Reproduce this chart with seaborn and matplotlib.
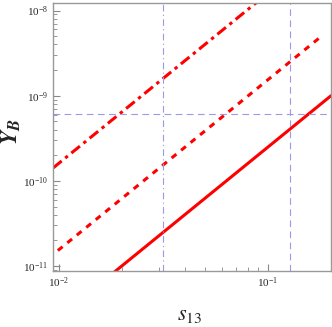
import matplotlib
matplotlib.use("Agg")
import matplotlib.pyplot as plt
import matplotlib.ticker as mticker
import numpy as np
import pandas as pd
import seaborn as sns

# end points of the three straight lines (log-log)
s_solid = [0.018, 0.2]
y_solid = [8.1e-12, 1.0e-9]
s_dashed = [0.0099, 0.18]
y_dashed = [1.52e-11, 5.0e-9]
s_dashdot = [0.0094, 0.09]
y_dashdot = [1.42e-10, 1.3e-8]

y_obs = 6.1e-10
s_bounds = [0.0316, 0.127]

sns.set_style("ticks")
plt.rcParams['font.family'] = ['Liberation Serif', 'DejaVu Serif']
plt.rcParams['mathtext.fontset'] = 'stix'

fig = plt.figure(figsize=(3.32, 3.27), dpi=100)
ax = fig.add_axes([0.16, 0.172, 0.837, 0.819])

sns.lineplot(x=s_solid, y=y_solid, ax=ax, color='red', lw=2.2, linestyle='-')
sns.lineplot(x=s_dashed, y=y_dashed, ax=ax, color='red', lw=2.2, linestyle=(0, (2.0, 2.0)))
sns.lineplot(x=s_dashdot, y=y_dashdot, ax=ax, color='red', lw=2.2, linestyle=(0, (3.6, 1.5, 1.1, 1.5)))

ax.axhline(y_obs, color='#9a9ae6', lw=0.8, linestyle=(0, (6, 4)))
ax.axvline(s_bounds[0], color='#9a9ae6', lw=0.8, linestyle=(0, (6, 3, 1, 3)))
ax.axvline(s_bounds[1], color='#9a9ae6', lw=0.8, linestyle=(0, (6, 4)))

ax.set_xscale('log')
ax.set_yscale('log')
ax.set_xlim(0.0094, 0.2)
ax.set_ylim(8.8e-12, 1.23e-8)
ax.xaxis.set_minor_formatter(mticker.NullFormatter())
ax.yaxis.set_minor_formatter(mticker.NullFormatter())

for sp in ax.spines.values():
    sp.set_color('#999999')
    sp.set_linewidth(1.0)
ax.tick_params(which='both', direction='in', color='#888888', labelsize=8)
ax.tick_params(which='major', length=5)
ax.tick_params(which='minor', length=3)

ax.set_xlabel(r'$s_{\mathrm{13}}$', fontsize=16)
ax.xaxis.set_label_coords(0.49, -0.13)
ax.set_ylabel(r'$\mathbfit{Y_B}$', fontsize=17)
ax.yaxis.set_label_coords(-0.11, 0.52)

fig.savefig('out.png', dpi=100)
